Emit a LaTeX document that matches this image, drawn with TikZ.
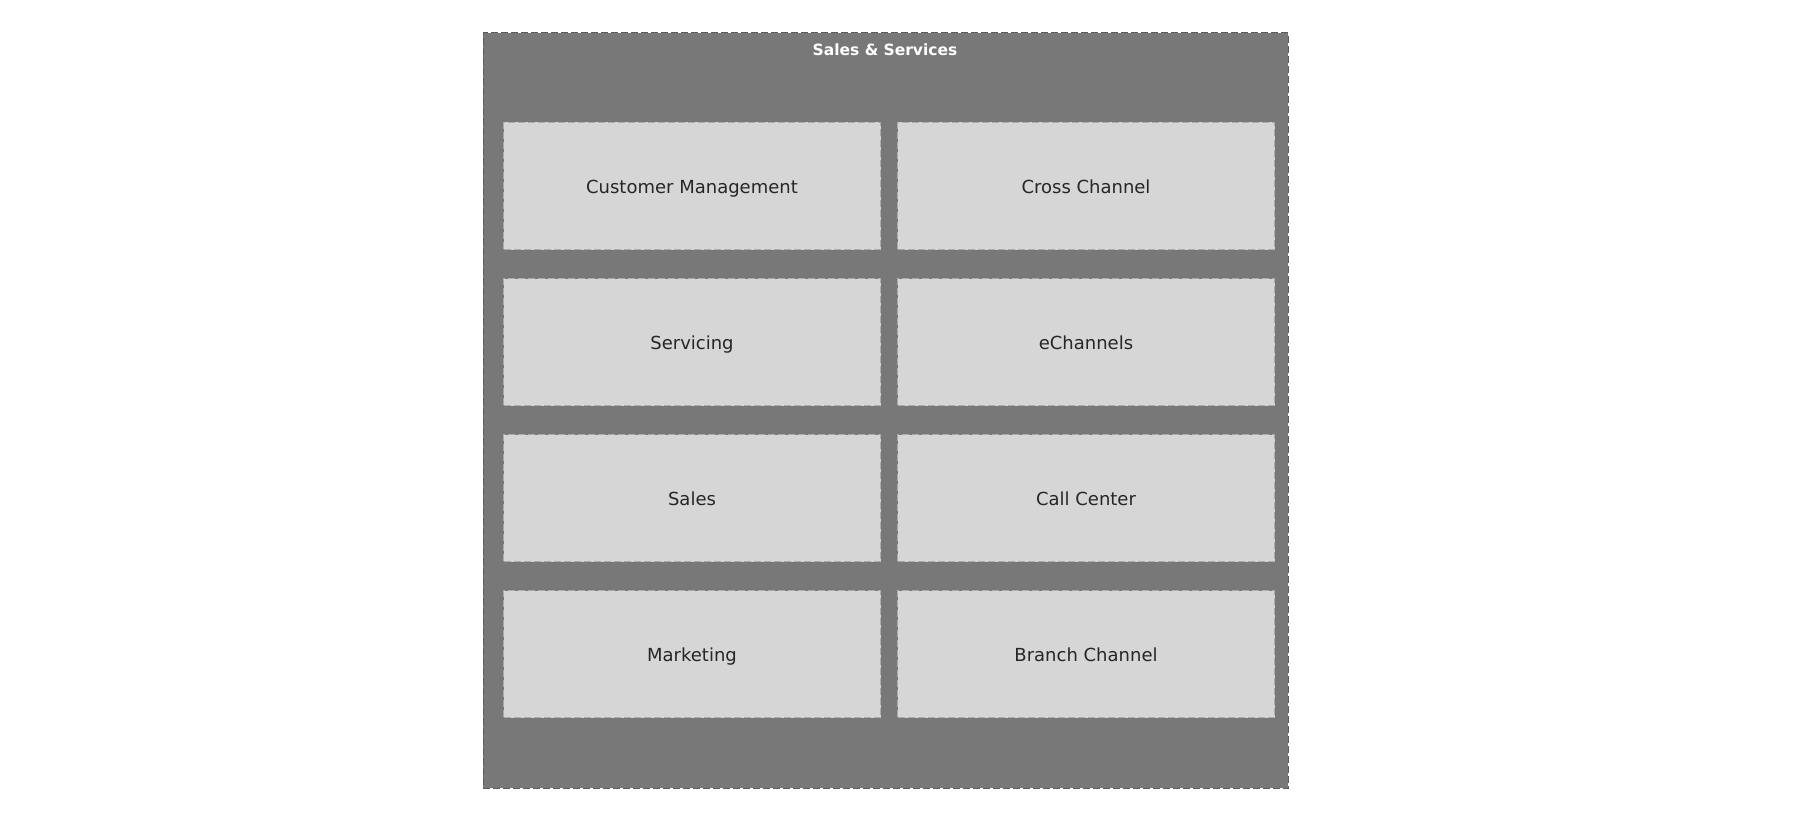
\documentclass[tikz,border=0pt]{standalone}
\usepackage{fontspec}
\setmainfont{DejaVu Sans}
\usepackage{tikz}
\usetikzlibrary{positioning}

\definecolor{outerfill}{HTML}{787878}
\definecolor{outerline}{HTML}{5C5C5C}
\definecolor{boxfill}{HTML}{D6D6D6}
\definecolor{boxline}{HTML}{ABABAB}

\begin{document}
\begin{tikzpicture}[x=1pt, y=1pt,
        area/.style = {draw=outerline, fill=outerfill, line width=1pt, dash pattern=on 7pt off 3pt,
                       minimum width=805pt, minimum height=755pt, inner sep=0pt},
        block/.style = {draw=boxline, fill=boxfill, line width=1pt, dash pattern=on 7pt off 3pt,
                        minimum width=377pt, minimum height=127pt, inner sep=0pt,
                        text height=19.5pt, text depth=4pt,
                        font=\fontsize{18}{22}\selectfont, text=black!85},
        title/.style = {font=\fontsize{15.5}{19}\selectfont\bfseries, text=white, inner sep=0pt,
                        text height=11.5pt, text depth=3.5pt}]
        \useasboundingbox (0,0) rectangle (1795,-824);

        \node[area](sales) at (885.5,-410.5) {};
        \node[title](salestitle) at (885,-52) {Sales \& Services};

        % left column
        \node[block](custmgmt) at (692,-186) {Customer Management};
        \node[block](servicing) [below = 28pt of custmgmt] {Servicing};
        \node[block](salesbox) [below = 28pt of servicing] {Sales};
        \node[block](marketing) [below = 28pt of salesbox] {Marketing};

        % right column
        \node[block](crosschan) [right = 16pt of custmgmt] {Cross Channel};
        \node[block](echannels) [right = 16pt of servicing] {eChannels};
        \node[block](callcenter) [right = 16pt of salesbox] {Call Center};
        \node[block](branchchan) [right = 16pt of marketing] {Branch Channel};
    \end{tikzpicture}
\end{document}
